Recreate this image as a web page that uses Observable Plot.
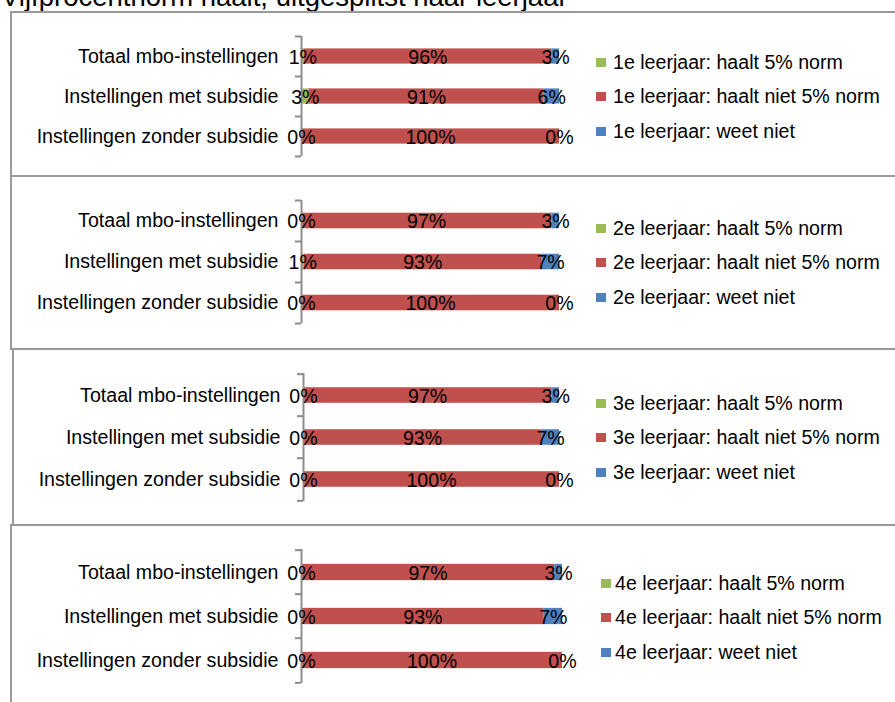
<!DOCTYPE html>
<html>
<head>
<meta charset="utf-8">
<script src="https://cdn.jsdelivr.net/npm/d3@7"></script>
<script src="https://cdn.jsdelivr.net/npm/@observablehq/plot@0.6"></script>
<style>
  html, body { margin: 0; padding: 0; background: #fff; }
  body { width: 895px; height: 702px; overflow: hidden; position: relative;
         font-family: "Liberation Sans", Arial, sans-serif; color: #000; }
  #title { position: absolute; left: 1px; top: -18px; font-size: 27.5px; line-height: 30px; white-space: nowrap; }
  .box { position: absolute; border-top: 2px solid #9a9a9a; border-left: 2px solid #9a9a9a; box-sizing: border-box; }
  .chart { position: absolute; }
  .legend { position: absolute; font-size: 19.6px; white-space: nowrap; }
  .legend .row { position: absolute; left: 0; height: 22px; line-height: 22px; }
  .legend .sw { position: absolute; left: 0; top: 7px; width: 10px; height: 9px; }
  .legend .lbl { position: absolute; white-space: nowrap; }
</style>
</head>
<body>
<div id="title">Vijfprocentnorm haalt, uitgesplitst naar leerjaar</div>
<div id="root"></div>
<script>
// ---- data ----
const leerjaren = ["1e leerjaar", "2e leerjaar", "3e leerjaar", "4e leerjaar"];
const categories = ["Totaal mbo-instellingen", "Instellingen met subsidie", "Instellingen zonder subsidie"];
const seriesNames = ["haalt 5% norm", "haalt niet 5% norm", "weet niet"];
const seriesColors = ["#9BBB59", "#C0504D", "#4F81BD"];
const haalt     = [[1, 3, 0], [0, 1, 0], [0, 0, 0], [0, 0, 0]];
const haaltNiet = [[96, 91, 100], [97, 93, 100], [97, 93, 100], [97, 93, 100]];
const weetNiet  = [[3, 6, 0], [3, 7, 0], [3, 7, 0], [3, 7, 0]];

// ---- layout (pixels) ----
const panels = [
  {left: 10, top: 11,  width: 885, height: 164, mt: 25, mb: 19, ml: 291, mr: 336, legTop: 51, swX: 586, txX: 603},
  {left: 10, top: 175, width: 885, height: 173, mt: 25, mb: 25, ml: 291, mr: 336, legTop: 53, swX: 586, txX: 603},
  {left: 12, top: 348, width: 883, height: 176, mt: 25, mb: 23, ml: 291, mr: 336, legTop: 55, swX: 584, txX: 601},
  {left: 10, top: 524, width: 885, height: 190, mt: 25, mb: 31, ml: 291, mr: 333, legTop: 59, swX: 591, txX: 605}
];
const rowGap = 34.3;
const axisGray = "#8c8c8c";
const fs = 19.6;

const root = document.getElementById("root");

leerjaren.forEach((lj, p) => {
  const L = panels[p];
  const rows = [];
  categories.forEach((c, i) => {
    rows.push({category: c, series: seriesNames[0], value: haalt[p][i]});
    rows.push({category: c, series: seriesNames[1], value: haaltNiet[p][i]});
    rows.push({category: c, series: seriesNames[2], value: weetNiet[p][i]});
  });

  const box = document.createElement("div");
  box.className = "box";
  box.style.left = L.left + "px";
  box.style.top = L.top + "px";
  box.style.width = (895 - L.left + 10) + "px";
  box.style.height = (L.height + 2) + "px";
  root.appendChild(box);

  const bw = (L.height - L.mt - L.mb) / categories.length;
  const inset = bw * 0.31;

  const chart = Plot.plot({
    width: L.width,
    height: L.height,
    marginTop: L.mt,
    marginBottom: L.mb,
    marginLeft: L.ml,
    marginRight: L.mr,
    style: {fontFamily: "'Liberation Sans', Arial, sans-serif", fontSize: fs + "px", background: "transparent", color: "#000"},
    x: {domain: [0, 1], axis: null},
    y: {domain: categories, padding: 0, label: null},
    color: {domain: seriesNames, range: seriesColors},
    marks: [
      Plot.barX(rows, Plot.stackX({
        x: "value", y: "category", fill: "series", order: seriesNames, offset: "normalize",
        insetTop: inset, insetBottom: inset
      })),
      Plot.ruleX([0], {stroke: axisGray, strokeWidth: 2}),
      Plot.axisY(categories, {tickSize: 6, tickFormat: () => "", label: null, stroke: axisGray, strokeWidth: 2, dy: -bw / 2}),
      Plot.axisY([categories[categories.length - 1]], {tickSize: 6, tickFormat: () => "", label: null, stroke: axisGray, strokeWidth: 2, dy: bw / 2}),
      Plot.axisY({tickSize: 0, tickPadding: 23, label: null, fill: "#000", fontSize: fs}),
      Plot.textX(rows, Plot.stackX({
        x: "value", y: "category", z: "series", order: seriesNames, offset: "normalize",
        text: d => d.value + "%", fill: "#000", fontSize: fs, dy: 1
      }))
    ]
  });
  const wrap = document.createElement("div");
  wrap.className = "chart";
  wrap.style.left = L.left + "px";
  wrap.style.top = L.top + "px";
  wrap.appendChild(chart);
  root.appendChild(wrap);

  // legend
  const leg = document.createElement("div");
  leg.className = "legend";
  leg.style.left = L.left + "px";
  leg.style.top = L.top + "px";
  seriesNames.forEach((s, k) => {
    const row = document.createElement("div");
    row.className = "row";
    row.style.top = (L.legTop + k * rowGap - 11) + "px";
    const sw = document.createElement("span");
    sw.className = "sw";
    sw.style.left = L.swX + "px";
    sw.style.background = seriesColors[k];
    const tx = document.createElement("span");
    tx.className = "lbl";
    tx.style.left = L.txX + "px";
    tx.textContent = lj + ": " + s;
    row.appendChild(sw);
    row.appendChild(tx);
    leg.appendChild(row);
  });
  root.appendChild(leg);
});
</script>
</body>
</html>
